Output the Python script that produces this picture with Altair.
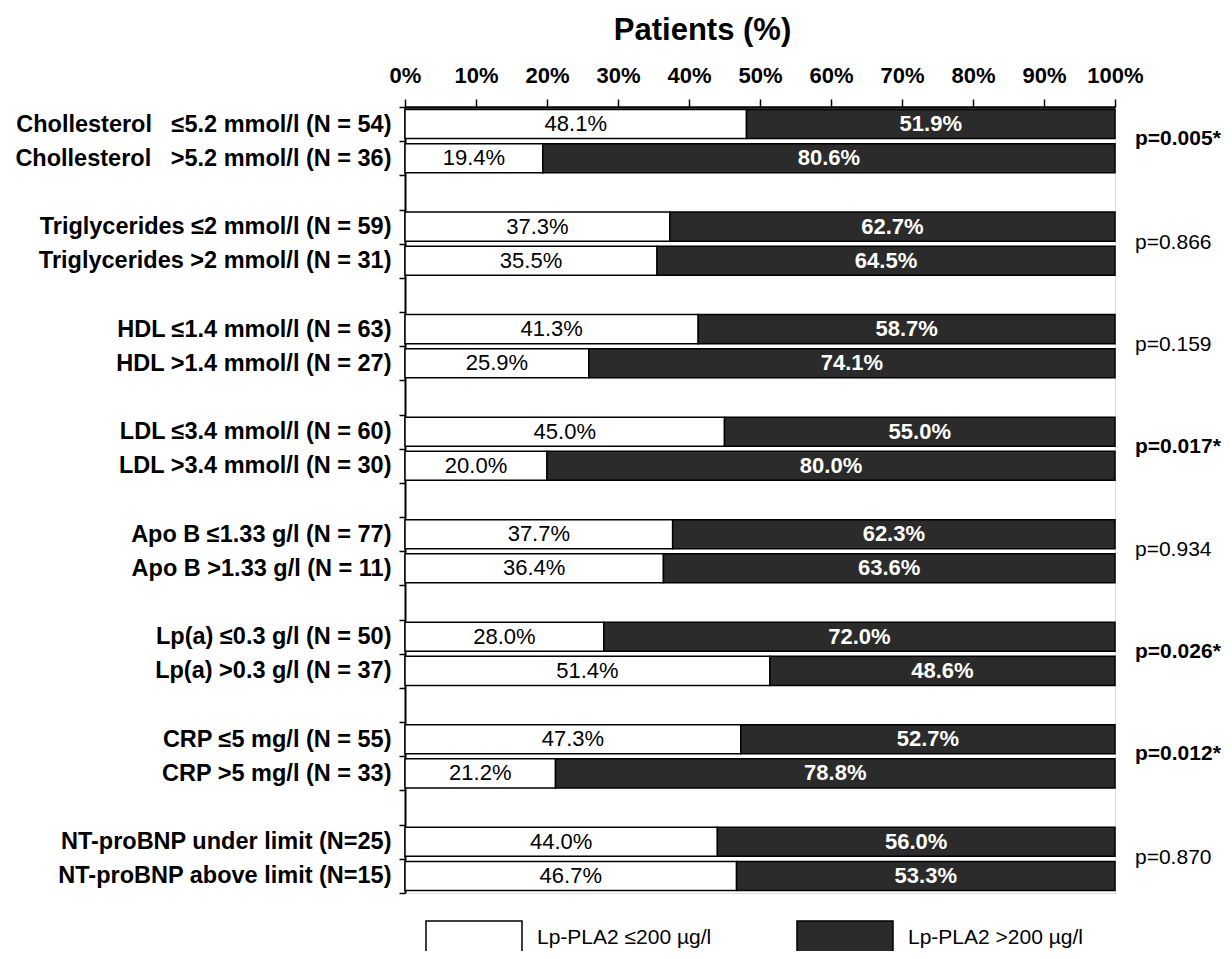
import altair as alt
import pandas as pd

FONT = "Liberation Sans"

row_labels = [
    "Chollesterol\u00a0\u00a0 ≤5.2 mmol/l (N = 54)",
    "Chollesterol\u00a0\u00a0 >5.2 mmol/l (N = 36)",
    "Triglycerides ≤2 mmol/l (N = 59)",
    "Triglycerides >2 mmol/l (N = 31)",
    "HDL ≤1.4 mmol/l (N = 63)",
    "HDL >1.4 mmol/l (N = 27)",
    "LDL ≤3.4 mmol/l (N = 60)",
    "LDL >3.4 mmol/l (N = 30)",
    "Apo B ≤1.33 g/l (N = 77)",
    "Apo B >1.33 g/l (N = 11)",
    "Lp(a) ≤0.3 g/l (N = 50)",
    "Lp(a) >0.3 g/l (N = 37)",
    "CRP ≤5 mg/l (N = 55)",
    "CRP >5 mg/l (N = 33)",
    "NT-proBNP under limit (N=25)",
    "NT-proBNP above limit (N=15)",
]
low_pct = [48.1, 19.4, 37.3, 35.5, 41.3, 25.9, 45.0, 20.0, 37.7, 36.4, 28.0, 51.4, 47.3, 21.2, 44.0, 46.7]
high_pct = [51.9, 80.6, 62.7, 64.5, 58.7, 74.1, 55.0, 80.0, 62.3, 63.6, 72.0, 48.6, 52.7, 78.8, 56.0, 53.3]
p_labels = ["p=0.005*", "p=0.866", "p=0.159", "p=0.017*", "p=0.934", "p=0.026*", "p=0.012*", "p=0.870"]
p_bold = [True, False, False, True, False, True, True, False]
series_names = ["Lp-PLA2 ≤200 µg/l", "Lp-PLA2 >200 µg/l"]
series_colors = ["white", "#2b2b2b"]
x_ticks = [0, 10, 20, 30, 40, 50, 60, 70, 80, 90, 100]

n_groups = len(p_labels)
slots = []
for g in range(n_groups):
    slots += [row_labels[2 * g], row_labels[2 * g + 1]]
    if g < n_groups - 1:
        slots.append(f"gap{g}")

seg = []
for lab, lo, hi in zip(row_labels, low_pct, high_pct):
    seg.append(dict(row=lab, series=series_names[0], start=0.0, end=lo, mid=lo / 2, txt=f"{lo:.1f}%"))
    seg.append(dict(row=lab, series=series_names[1], start=lo, end=lo + hi, mid=lo + hi / 2, txt=f"{hi:.1f}%"))
seg_df = pd.DataFrame(seg)

p_df = pd.DataFrame(dict(
    row=[row_labels[2 * g] for g in range(n_groups)],
    txt=p_labels,
    bold=p_bold,
    xpos=[100] * n_groups,
))

yscale = alt.Scale(domain=slots, paddingInner=0, paddingOuter=0)
xscale = alt.Scale(domain=[0, 100], nice=False, zero=True)

y_axis = alt.Axis(
    title=None,
    labelExpr="indexof(datum.label, 'gap') == 0 ? '' : datum.label",
    labelFont=FONT, labelFontWeight="bold", labelFontSize=23.5, labelColor="black",
    labelLimit=0, labelPadding=8, labelOverlap=False,
    tickBand="extent", tickSize=6, tickColor="black", tickWidth=1.5,
    domainColor="black", domainWidth=2, grid=False,
)
x_axis = alt.Axis(
    orient="top", values=x_ticks, labelExpr="datum.value + '%'", labelOverlap=False,
    labelFlush=False,
    labelFont=FONT, labelFontWeight="bold", labelFontSize=22, labelColor="black",
    labelPadding=12, tickSize=8, tickColor="black", tickWidth=1.5,
    domainColor="black", domainWidth=2.5, grid=False,
    title="Patients (%)", titleFont=FONT, titleFontSize=31, titleFontWeight="bold",
    titleColor="black", titleX=297, titleY=-77, titleAlign="center", titleBaseline="middle",
)

base = alt.Chart(seg_df)

bars = base.mark_bar(height=alt.RelativeBandSize(0.85), stroke="black", strokeWidth=1.5).encode(
    y=alt.Y("row:N", sort=slots, scale=yscale, axis=y_axis),
    x=alt.X("start:Q", scale=xscale, axis=x_axis),
    x2="end:Q",
    color=alt.Color(
        "series:N",
        scale=alt.Scale(domain=series_names, range=series_colors),
        legend=alt.Legend(
            title=None, orient="none", legendX=20, legendY=782, direction="horizontal",
            symbolType="M-1,-0.354H1V0.354H-1Z", symbolSize=9216,
            symbolStrokeColor="black", symbolStrokeWidth=1.5, symbolOpacity=1,
            labelFont=FONT, labelFontSize=21, labelColor="black", labelOffset=14,
            labelLimit=0, columnPadding=82, padding=0,
        ),
    ),
)

txt_low = base.transform_filter(alt.datum.series == series_names[0]).mark_text(
    font=FONT, fontSize=22, color="black", baseline="middle", align="center"
).encode(
    y=alt.Y("row:N", sort=slots, scale=yscale),
    x=alt.X("mid:Q", scale=xscale),
    text="txt:N",
)
txt_high = base.transform_filter(alt.datum.series == series_names[1]).mark_text(
    font=FONT, fontSize=22, fontWeight="bold", color="white", baseline="middle", align="center"
).encode(
    y=alt.Y("row:N", sort=slots, scale=yscale),
    x=alt.X("mid:Q", scale=xscale),
    text="txt:N",
)

pbase = alt.Chart(p_df)
p_bold_layer = pbase.transform_filter(alt.datum.bold == True).mark_text(
    font=FONT, fontSize=21, fontWeight="bold", color="black", align="left", baseline="middle", dx=20, dy=-2
).encode(
    y=alt.Y("row:N", sort=slots, scale=yscale, bandPosition=1),
    x=alt.X("xpos:Q", scale=xscale),
    text="txt:N",
)
p_norm_layer = pbase.transform_filter(alt.datum.bold == False).mark_text(
    font=FONT, fontSize=21, color="black", align="left", baseline="middle", dx=20, dy=-1
).encode(
    y=alt.Y("row:N", sort=slots, scale=yscale, bandPosition=1),
    x=alt.X("xpos:Q", scale=xscale),
    text="txt:N",
)

chart = alt.layer(bars, txt_low, txt_high, p_bold_layer, p_norm_layer).properties(
    width=710, height=786,
    autosize=alt.AutoSizeParams(type="none"),
    padding={"left": 397, "top": 99, "right": 109, "bottom": 58},
).configure_view(stroke=None).configure(background="white")

chart.save("out.html", embed_options={"renderer": "svg", "actions": False})
